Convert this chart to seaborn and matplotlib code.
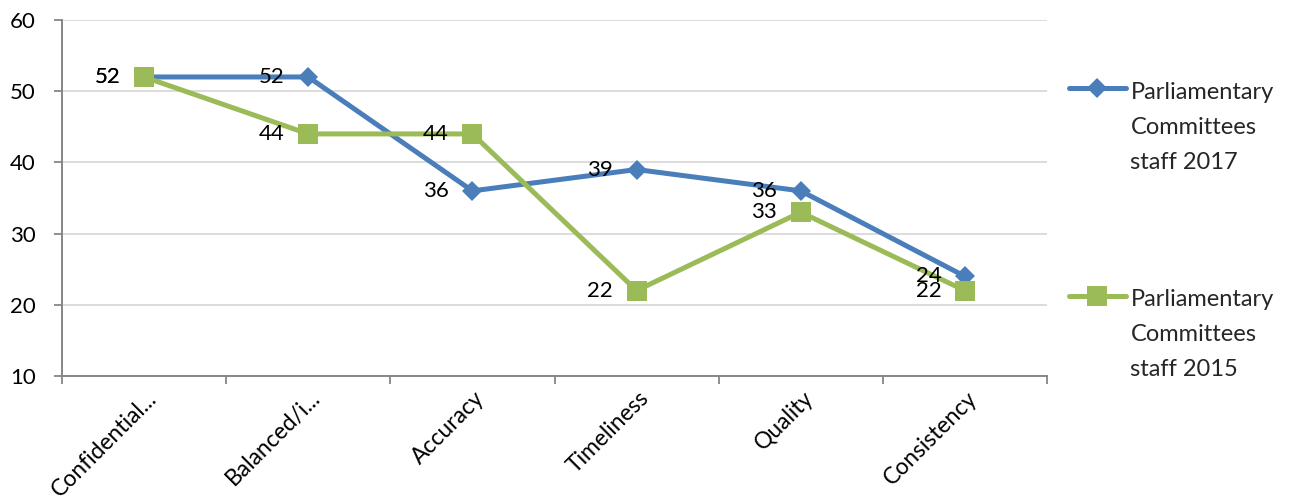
import numpy as np
import pandas as pd
import matplotlib
matplotlib.use("Agg")
import matplotlib.pyplot as plt
import matplotlib.transforms as mtransforms
from matplotlib.lines import Line2D
from matplotlib.legend_handler import HandlerLine2D
from matplotlib.ticker import FixedLocator
import seaborn as sns

# Survey attributes and the share rating them highly, per staff cohort
categories = ["Confidential...", "Balanced/i...", "Accuracy", "Timeliness", "Quality", "Consistency"]
staff_2017 = [52, 52, 36, 39, 36, 24]
staff_2015 = [52, 44, 44, 22, 33, 22]
series_names = ["Parliamentary\nCommittees\nstaff 2017", "Parliamentary\nCommittees\nstaff 2015"]
y_ticks = [10, 20, 30, 40, 50, 60]

BLUE = "#4A7EBB"
GREEN = "#9BBB59"
GRID = "#D9D9D9"
AXIS = "#868686"

sns.set_theme(style="white")
plt.rcParams["font.family"] = ["Lato", "DejaVu Sans"]

df = pd.DataFrame({
    "pos": np.tile(np.arange(len(categories)), 2),
    "value": staff_2017 + staff_2015,
    "series": np.repeat(series_names, len(categories)),
})

fig = plt.figure(figsize=(12.98, 5.01), dpi=100)
ax = fig.add_axes([62 / 1298, 1 - 376 / 501, (1047 - 62) / 1298, (376 - 20) / 501])

styles = {
    series_names[0]: dict(color=BLUE, marker="D", markersize=10.5),
    series_names[1]: dict(color=GREEN, marker="s", markersize=14),
}
for name in series_names:
    st = styles[name]
    sns.lineplot(data=df[df["series"] == name], x="pos", y="value", ax=ax,
                 color=st["color"], linewidth=3.6, marker=st["marker"],
                 markersize=st["markersize"], markeredgewidth=0,
                 markerfacecolor=st["color"], legend=False, zorder=3)

# value labels to the left of every point
for vals in (staff_2017, staff_2015):
    for i, v in enumerate(vals):
        ax.annotate(f"{v}", (i, v), xytext=(-17, 0), textcoords="offset points",
                    ha="right", va="center", fontsize=16, color="black", zorder=5)

ax.set_xlim(-0.5, len(categories) - 0.5)
ax.set_ylim(min(y_ticks), max(y_ticks))
ax.yaxis.set_major_locator(FixedLocator(y_ticks))
ax.set_xticks(range(len(categories)))
ax.set_xticklabels(categories)
ax.xaxis.set_minor_locator(FixedLocator(np.arange(-0.5, len(categories), 1.0)))
ax.set_xlabel("")
ax.set_ylabel("")

ax.grid(axis="y", color=GRID, linewidth=1.3, zorder=0)
ax.set_axisbelow(True)
for s in ("top", "right"):
    ax.spines[s].set_visible(False)
for s in ("left", "bottom"):
    ax.spines[s].set_color(AXIS)
    ax.spines[s].set_linewidth(1.4)

ax.tick_params(axis="y", which="major", left=True, length=6, width=1.3, color=AXIS,
               pad=13, labelsize=16, labelcolor="black")
ax.tick_params(axis="x", which="major", bottom=False, length=0, pad=13.5, labelsize=16.5,
               labelcolor="black")
ax.tick_params(axis="x", which="minor", bottom=True, length=5.5, width=1.3, color=AXIS)

shift = mtransforms.ScaledTranslation(9 / 100, 0, fig.dpi_scale_trans)
for lbl in ax.get_xticklabels():
    lbl.set_rotation(45)
    lbl.set_ha("right")
    lbl.set_va("center")
    lbl.set_rotation_mode("anchor")
    lbl.set_transform(lbl.get_transform() + shift)


class FirstLineHandler(HandlerLine2D):
    """Line handle raised so it sits beside the first line of a wrapped label."""

    def __init__(self, raise_by, **kw):
        super().__init__(**kw)
        self.raise_by = raise_by

    def create_artists(self, legend, orig_handle, xdescent, ydescent, width, height,
                       fontsize, trans):
        return super().create_artists(legend, orig_handle, xdescent,
                                      ydescent - 2 * self.raise_by, width, height,
                                      fontsize, trans)


handles = [
    Line2D([], [], color=BLUE, lw=3.6, marker="D", markersize=10.5, markeredgewidth=0),
    Line2D([], [], color=GREEN, lw=3.6, marker="s", markersize=14, markeredgewidth=0),
]
leg = fig.legend(handles, series_names, loc="upper left",
                 bbox_to_anchor=(1069 / 1298, 1 - 82 / 501), frameon=False,
                 fontsize=17, handlelength=2.4, handletextpad=0.2, labelspacing=4.95,
                 borderpad=0, borderaxespad=0,
                 handler_map={h: FirstLineHandler(raise_by=28.3) for h in handles})
for t in leg.get_texts():
    t.set_linespacing(1.81)

fig.savefig("out.png", dpi=100)
